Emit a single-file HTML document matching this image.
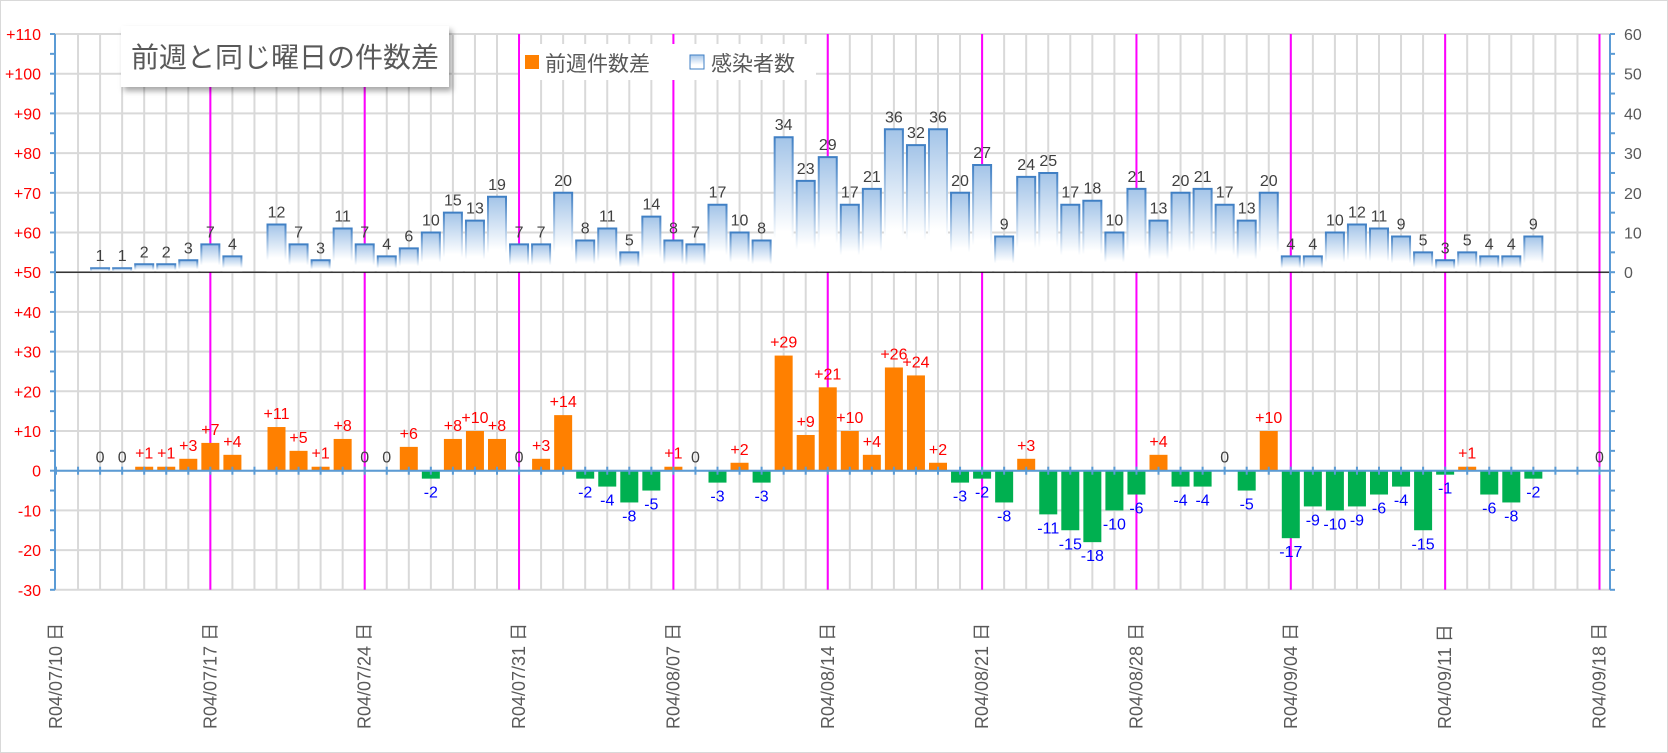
<!DOCTYPE html>
<html><head><meta charset="utf-8"><style>
body{margin:0;background:#fff;}
svg{display:block;font-family:"Liberation Sans","Noto Sans CJK JP",sans-serif;}
</style></head><body>
<svg id="chart" width="1668" height="753" viewBox="0 0 1668 753" xmlns="http://www.w3.org/2000/svg">
<defs>
<linearGradient id="caseFill" x1="0" y1="0" x2="0" y2="1"><stop offset="0" stop-color="#a3c4e8"/><stop offset="0.7" stop-color="#ffffff"/></linearGradient>
<linearGradient id="caseStroke" x1="0" y1="0" x2="0" y2="1"><stop offset="0" stop-color="#3f7fc4"/><stop offset="0.75" stop-color="#ffffff"/></linearGradient>
<filter id="shadow" x="-10%" y="-20%" width="130%" height="160%"><feDropShadow dx="3" dy="4" stdDeviation="3" flood-color="#000" flood-opacity="0.35"/></filter>
</defs>
<rect x="0.5" y="0.5" width="1667" height="752" fill="#fff" stroke="#d9d9d9"/>
<g id="grid"></g><g id="sundays"></g><g id="bars"></g><g id="axes"></g><g id="labels"></g>
<g filter="url(#shadow)"><rect x="121" y="26" width="328" height="61" fill="#fff"/></g>
<text x="285" y="67" text-anchor="middle" font-size="28" fill="#595959">前週と同じ曜日の件数差</text>
<g>
<rect x="520" y="44" width="296" height="36" fill="#fff"/>
<rect x="525" y="55" width="14" height="14" fill="#ff8000"/>
<text x="545" y="71" font-size="21" fill="#595959">前週件数差</text>
<rect x="690" y="55" width="14" height="14" fill="url(#caseFill)" stroke="#3f7fc4"/>
<text x="711" y="71" font-size="21" fill="#595959">感染者数</text>
</g>
</svg>
<script>
const diffs=[null,null,0,0,1,1,3,7,4,null,11,5,1,8,0,0,6,-2,8,10,8,0,3,14,-2,-4,-8,-5,1,0,-3,2,-3,29,9,21,10,4,26,24,2,-3,-2,-8,3,-11,-15,-18,-10,-6,4,-4,-4,0,-5,10,-17,-9,-10,-9,-6,-4,-15,-1,1,-6,-8,-2,null,null,0];
const cases=[null,null,1,1,2,2,3,7,4,null,12,7,3,11,7,4,6,10,15,13,19,7,7,20,8,11,5,14,8,7,17,10,8,34,23,29,17,21,36,32,36,20,27,9,24,25,17,18,10,21,13,20,21,17,13,20,4,4,10,12,11,9,5,3,5,4,4,9,null,null,null];
const sundayLabels=["R04/07/10 日","R04/07/17 日","R04/07/24 日","R04/07/31 日","R04/08/07 日","R04/08/14 日","R04/08/21 日","R04/08/28 日","R04/09/04 日","R04/09/11 日","R04/09/18 日"];
const leftTicks=[110,100,90,80,70,60,50,40,30,20,10,0,-10,-20,-30];
const rightTicks=[60,50,40,30,20,10,0];
const NS="http://www.w3.org/2000/svg";
const L=55,R=1610;
function X(i){return 56+i*22.05;}
function Y(v){return 34+(110-v)*3.97;}
function YR(v){return Y(50+v);}
function mk(tag,attrs,parent){const e=document.createElementNS(NS,tag);for(const k in attrs)e.setAttribute(k,attrs[k]);document.getElementById(parent).appendChild(e);return e;}
const n=diffs.length;
for(const t of leftTicks){const g=mk('line',{x1:L,x2:R,y1:Y(t),y2:Y(t),stroke:'#d9d9d9','stroke-width':2},'grid');

}
for(let i=1;i<n;i++){const g=mk('line',{x1:X(i),x2:X(i),y1:Y(110),y2:Y(-30),stroke:'#d9d9d9','stroke-width':2},'grid');

}
sundayLabels.forEach((s,k)=>{const i=k*7;const x=X(i);
if(k>0){const m=mk('line',{x1:x,x2:x,y1:Y(110),y2:Y(-30),stroke:'#ff00ff','stroke-width':2},'sundays');

}
const t=mk('text',{x:0,y:0,transform:`translate(${x+6},729) rotate(-90)`,'font-size':18,fill:'#595959'},'labels');
t.textContent=s;

});
const bw=18;
for(let i=0;i<n;i++){const c=cases[i];if(c===null)continue;const x=X(i)-bw/2,yt=YR(c),yb=YR(0);
const b=mk('rect',{x:x,y:yt,width:bw,height:yb-yt,fill:'url(#caseFill)'},'bars');


mk('path',{d:`M${x},${yb} V${yt} H${x+bw} V${yb}`,fill:'none',stroke:'url(#caseStroke)','stroke-width':2},'bars');
const t=mk('text',{x:X(i),y:yt-7,'text-anchor':'middle','font-size':16,fill:'#404040'},'labels');
t.textContent=c;

}
for(let i=0;i<n;i++){const d=diffs[i];if(d===null)continue;const y0=Y(0),y1=Y(d);
if(d!==0){const b=mk('rect',{x:X(i)-bw/2,y:Math.min(y0,y1),width:bw,height:Math.abs(y1-y0),fill:d>0?'#ff8000':'#00b050'},'bars');

}
const ty=d>=0?y1-8:y1+19;
const t=mk('text',{x:X(i),y:ty,'text-anchor':'middle','font-size':16,fill:d>0?'#ff0000':d<0?'#0000ff':'#404040'},'labels');
t.textContent=d>0?'+'+d:String(d);

}
mk('line',{x1:L,x2:R,y1:YR(0),y2:YR(0),stroke:'#000','stroke-width':1.2},'axes');
mk('line',{x1:L,x2:R,y1:Y(0),y2:Y(0),stroke:'#5b9bd5','stroke-width':2},'axes');
for(let i=0;i<n;i++)mk('line',{x1:X(i),x2:X(i),y1:Y(0)-4,y2:Y(0)+4,stroke:'#5b9bd5','stroke-width':2},'axes');
mk('line',{x1:L,x2:L,y1:Y(110),y2:Y(-30),stroke:'#5b9bd5','stroke-width':2},'axes');
mk('line',{x1:R,x2:R,y1:Y(110),y2:Y(-30),stroke:'#5b9bd5','stroke-width':2},'axes');
for(let v=110;v>=-30;v-=5){mk('line',{x1:L-5,x2:L,y1:Y(v),y2:Y(v),stroke:'#5b9bd5','stroke-width':2},'axes');
mk('line',{x1:R,x2:R+5,y1:Y(v),y2:Y(v),stroke:'#5b9bd5','stroke-width':2},'axes');}
for(const t of leftTicks){const e=mk('text',{x:41,y:Y(t)+6,'text-anchor':'end','font-size':16,fill:'#ff0000'},'labels');
e.textContent=t>0?'+'+t:String(t);

}
for(const t of rightTicks){const e=mk('text',{x:1624,y:YR(t)+6,'font-size':16,fill:'#595959'},'labels');
e.textContent=t;

}
</script>
</body></html>
